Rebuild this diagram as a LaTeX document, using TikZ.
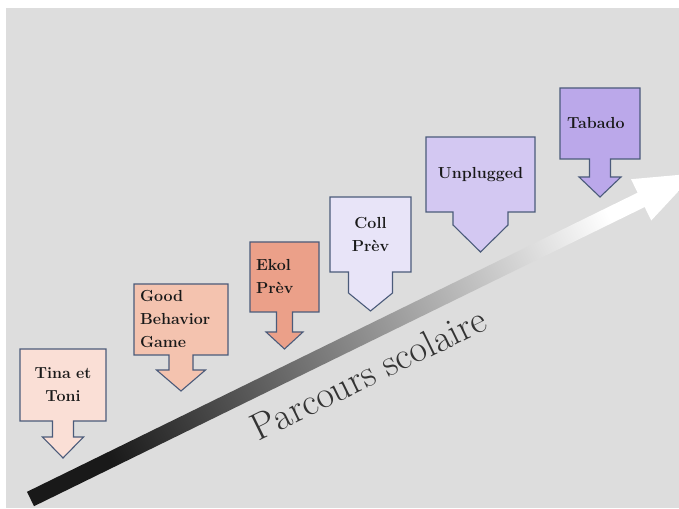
\documentclass[tikz,border=0pt]{standalone}
\usepackage{tikz}
\usetikzlibrary{backgrounds}

\definecolor{bggray}{HTML}{DDDDDD}
\definecolor{edge}{HTML}{4B5B7A}
\definecolor{tinacol}{HTML}{FADFD6}
\definecolor{goodcol}{HTML}{F4C3AF}
\definecolor{ekolcol}{HTML}{EBA089}
\definecolor{collcol}{HTML}{E8E4F8}
\definecolor{unplcol}{HTML}{D3C8F2}
\definecolor{tabacol}{HTML}{BBA8EA}

% box, fill, shaft half width, shaft length, head half width, head length
\newcommand{\arrowbox}[6]{%
  \begin{pgfonlayer}{background}
  \draw[outline,fill=#2] (#1.north west) -- (#1.north east) -- (#1.south east)
    -- ([xshift=#3]#1.south) -- ++(0,-#4) -- ++({#5-#3},0)
    -- ([yshift={-#4-#6}]#1.south) -- ([shift={(-#5,-#4)}]#1.south)
    -- ([shift={(-#3,-#4)}]#1.south) -- ([xshift=-#3]#1.south)
    -- (#1.south west) -- cycle;
  \end{pgfonlayer}}

\begin{document}
\begin{tikzpicture}
	[x=1pt,y=1pt,
	box/.style={inner sep=0pt,outer sep=0pt,font=\bfseries\fontsize{16}{23}\selectfont,text=black!90},
	outline/.style={draw=edge,line width=1.1pt,line join=miter}]
	\useasboundingbox (0,0) rectangle (679,508);
	\begin{pgfonlayer}{background}
	\fill[bggray] (6,0) rectangle (679,500);
	\end{pgfonlayer}
	\node[box,minimum width=86,minimum height=72,text width=74,align=center] (tina) at (63,123) {Tina et\\Toni};
	\node[box,minimum width=94,minimum height=71,text width=82,align=left] (good) at (181,188.5) {Good\\Behavior\\Game};
	\node[box,minimum width=69,minimum height=70,text width=57,align=left] (ekol) at (284.5,231) {Ekol\\Prèv};
	\node[box,minimum width=81,minimum height=75,text width=69,align=center] (coll) at (370.5,273.5) {Coll\\Prèv};
	\node[box,minimum width=109,minimum height=75,text width=97,align=center] (unplugged) at (480.5,333.5) {Unplugged};
	\node[box,minimum width=80,minimum height=71,text width=66,align=left] (tabado) at (600,384.5) {Tabado};
	\arrowbox{tina}{tinacol}{10.5}{16}{20.5}{21}
	\arrowbox{good}{goodcol}{12}{15}{24.5}{21}
	\arrowbox{ekol}{ekolcol}{8}{20}{18.5}{17}
	\arrowbox{coll}{collcol}{22}{21}{22}{18}
	\arrowbox{unplugged}{unplcol}{27.5}{13}{27.5}{27}
	\arrowbox{tabado}{tabacol}{10.5}{18}{21}{20}
	\coordinate (tail) at (30.5,9);
	\begin{scope}
	\clip (6,0) rectangle (679,500);
	\shade[top color=white,bottom color=black!90,shading angle=-64,shift={(tail)},rotate=26.1]
		(0,-8) -- (680,-8) -- (680,-23) -- (740,0) -- (680,23) -- (680,8) -- (0,8) -- cycle;
	\end{scope}
	\node[font=\fontsize{38}{38}\selectfont,text=black!80,rotate=26.1,anchor=base] (path) at (374,123) {Parcours scolaire};
\end{tikzpicture}
\end{document}
